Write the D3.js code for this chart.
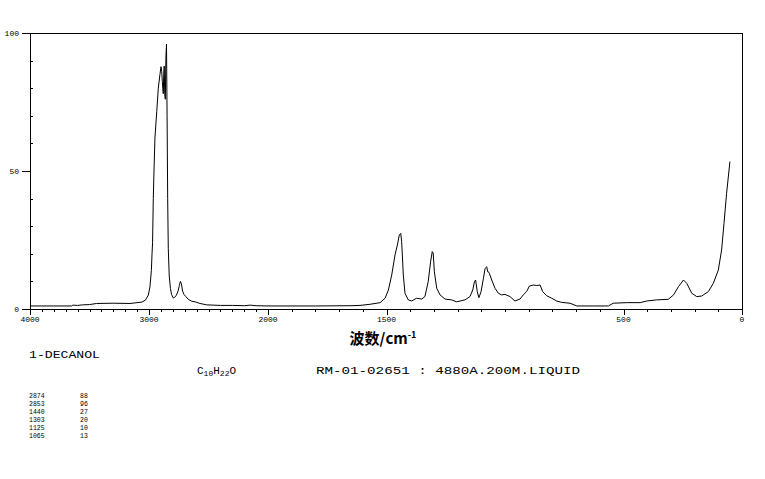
<!DOCTYPE html>
<html>
<head>
<meta charset="utf-8">
<script src="https://cdn.jsdelivr.net/npm/d3@7"></script>
<style>
  html, body { margin: 0; padding: 0; background: #fff; }
  svg { display: block; }
</style>
</head>
<body>
<script>
// ---- data ----
const wavenumbers = [4000,3800,3650,3640,3600,3560,3500,3440,3300,3160,3100,3060,3030,3006,2992,2980,2975,2970,2964,2958,2950,2935,2922,2908,2899,2893,2888,2884,2880,2876,2872,2868,2863,2858,2853,2848,2843,2838,2830,2820,2810,2796,2785,2770,2756,2745,2736,2728,2718,2705,2690,2670,2640,2613,2571,2515,2400,2300,2200,2150,2100,2000,1800,1650,1612,1570,1527,1506,1492,1478,1464,1454,1446,1440,1436,1429,1422,1408,1394,1373,1351,1338,1324,1314,1307,1303,1298,1288,1274,1253,1225,1204,1169,1148,1136,1129,1124,1117,1110,1101,1091,1084,1077,1073,1070,1066,1056,1042,1028,1014,1000,979,958,937,923,909,897,880,866,852,841,824,803,782,761,726,697,627,564,543,486,430,402,360,311,289,268,247,233,212,191,170,142,121,100,86,76,65,51];
const intensities = [1.1,1.1,1.1,1.4,1.3,1.5,1.6,2.0,2.1,2.0,2.3,2.5,3.2,5.0,8.0,14,19.6,24,40,50,62,71.5,80,85,87.8,86,82.4,80,78,85,88,78,76,91,96,70,40,22,12,7.5,5.2,4.0,4.2,5.0,6.5,8.5,10.0,9.2,6.5,5.2,4.5,3.5,2.8,2.6,2.0,1.5,1.3,1.3,1.2,1.4,1.2,1.1,1.1,1.2,1.3,1.7,2.3,3.9,6.9,12.3,19.6,23.2,26.8,27.4,24.4,12.3,5.7,3.3,2.9,3.9,3.6,4.5,9.9,17.1,20.8,20.3,13.5,7.5,5.1,3.6,3.3,2.6,3.3,4.5,6.9,9.9,10.5,6.3,4.1,6.3,11.1,14.7,15.3,13.5,13.5,12.9,10.5,7.5,5.7,5.1,5.3,4.5,2.9,3.6,5.1,6.3,8.3,8.7,8.5,8.7,6.3,4.8,3.9,2.9,2.4,2.1,1.1,1.1,1.1,2.1,2.3,2.3,2.9,3.3,3.5,5.1,8.1,10.5,9.3,5.7,4.5,4.7,6.3,9.3,14.1,21.4,31,41.9,53.4];
const xTickLabels = [4000, 3000, 2000, 1500, 500, 0];
const yTickLabels = [0, 50, 100];
const compoundName = "1-DECANOL";
const sourceInfo = "RM-01-02651 : 4880A.200M.LIQUID";
const peakWavenumbers = ["2874", "2853", "1440", "1303", "1125", "1065"];
const peakIntensities = ["88", "96", "27", "20", "10", "13"];

// ---- layout ----
const W = 765, H = 479;
const svg = d3.select("body").append("svg").attr("width", W).attr("height", H);

const x = d3.scaleLinear().domain([4000, 2000, 0]).range([30, 268, 742]);
const y = d3.scaleLinear().domain([0, 100]).range([309, 33]);

const g = svg.append("g");
const mono = "'Liberation Mono', 'DejaVu Sans Mono', monospace";

// frame
g.append("rect")
  .attr("x", x(4000)).attr("y", y(100))
  .attr("width", x(0) - x(4000)).attr("height", y(0) - y(100))
  .attr("fill", "none").attr("stroke", "#000").attr("stroke-width", 1)
  .attr("shape-rendering", "crispEdges");

// x ticks (every 100)
const xTicks = d3.range(0, 4001, 100);
g.selectAll(".xt").data(xTicks).enter().append("line")
  .attr("x1", d => Math.round(x(d)) + 0.5).attr("x2", d => Math.round(x(d)) + 0.5)
  .attr("y1", y(0)).attr("y2", d => y(0) + (xTickLabels.includes(d) ? 6 : 3))
  .attr("stroke", "#000").attr("shape-rendering", "crispEdges");
g.selectAll(".xl").data(xTickLabels).enter().append("text")
  .attr("x", d => x(d)).attr("y", 322)
  .attr("text-anchor", "middle")
  .attr("font-family", mono).attr("font-size", 8)
  .text(d => d);

// y ticks (every 10)
const yTicks = d3.range(0, 101, 10);
g.selectAll(".yt").data(yTicks).enter().append("line")
  .attr("x1", d => yTickLabels.includes(d) ? x(4000) - 8 : x(4000))
  .attr("x2", d => yTickLabels.includes(d) ? x(4000) : x(4000) + 3)
  .attr("y1", d => Math.round(y(d)) + 0.5).attr("y2", d => Math.round(y(d)) + 0.5)
  .attr("stroke", "#000").attr("shape-rendering", "crispEdges");
g.selectAll(".yl").data(yTickLabels).enter().append("text")
  .attr("x", 19).attr("y", d => y(d) + 3)
  .attr("text-anchor", "end")
  .attr("font-family", mono).attr("font-size", 8)
  .text(d => d);

// spectrum
const pts = wavenumbers.map((w, i) => [w, intensities[i]]);
g.append("path")
  .datum(pts)
  .attr("fill", "none").attr("stroke", "#000").attr("stroke-width", 1)
  .attr("d", d3.line().x(d => x(d[0])).y(d => y(d[1])));

// axis title
const title = svg.append("text")
  .attr("x", 383).attr("y", 344)
  .attr("text-anchor", "middle")
  .attr("font-family", "'Noto Sans CJK SC', sans-serif")
  .attr("font-size", 15).attr("font-weight", "bold");
title.append("tspan").text("波数/cm");
title.append("tspan").attr("dy", -6).attr("font-size", 9).text("-1");

// compound name
svg.append("text")
  .attr("x", 29).attr("y", 358)
  .attr("font-family", mono).attr("font-size", 11)
  .attr("textLength", 71).attr("lengthAdjust", "spacingAndGlyphs")
  .text(compoundName);

// formula C10H22O
const f = svg.append("text")
  .attr("x", 197).attr("y", 374)
  .attr("font-family", mono).attr("font-size", 11);
f.append("tspan").text("C");
f.append("tspan").attr("dy", 2).attr("font-size", 8).text("10");
f.append("tspan").attr("dy", -2).text("H");
f.append("tspan").attr("dy", 2).attr("font-size", 8).text("22");
f.append("tspan").attr("dy", -2).text("O");

svg.append("text")
  .attr("x", 316).attr("y", 374)
  .attr("font-family", mono).attr("font-size", 11)
  .attr("textLength", 264).attr("lengthAdjust", "spacingAndGlyphs")
  .text(sourceInfo);

// peak table
const tbl = svg.append("g");
tbl.selectAll(".pw").data(peakWavenumbers).enter().append("text")
  .attr("x", 29).attr("y", (d, i) => 398 + i * 8)
  .attr("font-family", mono).attr("font-size", 6.5)
  .text(d => d);
tbl.selectAll(".pi").data(peakIntensities).enter().append("text")
  .attr("x", 80).attr("y", (d, i) => 398 + i * 8)
  .attr("font-family", mono).attr("font-size", 6.5)
  .text(d => d);
</script>
</body>
</html>
